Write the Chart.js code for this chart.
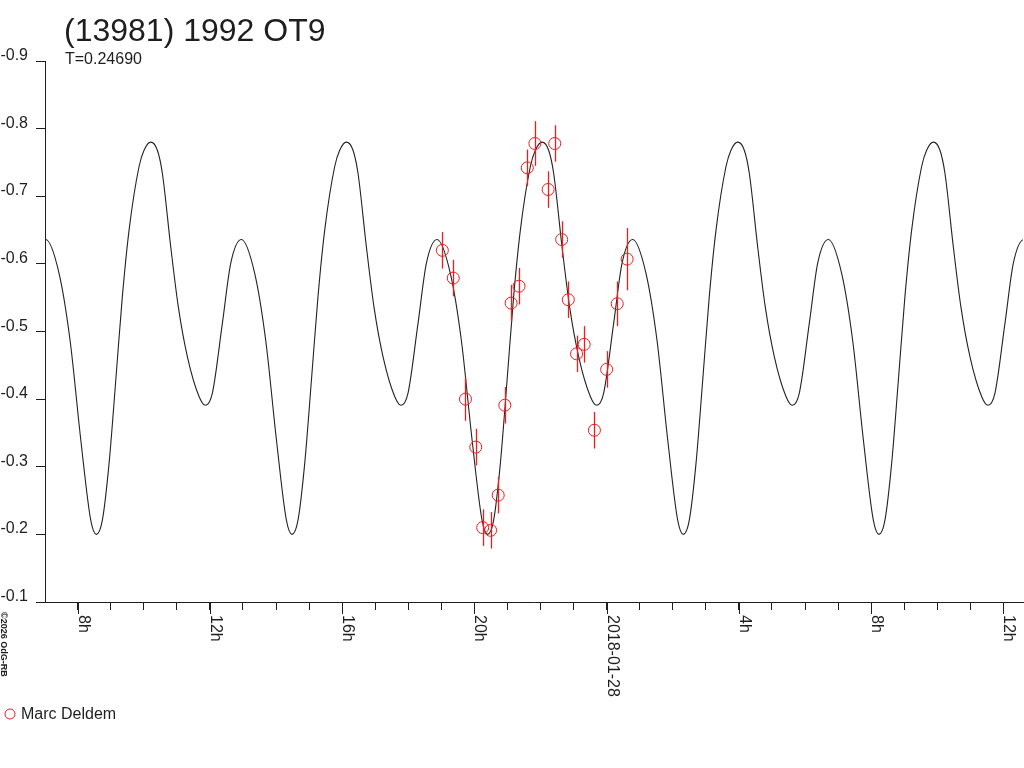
<!DOCTYPE html>
<html><head><meta charset="utf-8">
<script src="https://cdn.jsdelivr.net/npm/chart.js@4.4.1/dist/chart.umd.min.js"></script>
<style>html,body{margin:0;padding:0;background:#fff;overflow:hidden}canvas{display:block}</style>
</head><body>
<canvas id="c" width="1024" height="768"></canvas>
<script>
// ---- texts ----
const titleText = '(13981) 1992 OT9';
const subtitleText = 'T=0.24690';
const observerName = 'Marc Deldem';
const copyrightText = '\u00A92026 OdG-RB';

// ---- axes (hours counted from 2018-01-27 00h) ----
const xMin = 7.011, xMax = 36.594;
const tickHours = [8,9,10,11,12,13,14,15,16,17,18,19,20,21,22,23,24,25,26,27,28,29,30,31,32,33,34,35,36];
const labelHours = [8, 12, 16, 20, 24, 28, 32, 36];
const labelTexts = ['8h', '12h', '16h', '20h', '2018-01-28', '4h', '8h', '12h'];
const yTickValues = [-0.9, -0.8, -0.7, -0.6, -0.5, -0.4, -0.3, -0.2, -0.1];

// ---- observations (Marc Deldem) ----
const obsHours = [19.03, 19.36, 19.73, 20.04, 20.25, 20.49, 20.72, 20.92, 21.11, 21.35, 21.60, 21.83, 22.23, 22.43, 22.64, 22.84, 23.09, 23.32, 23.63, 24.00, 24.32, 24.62];
const obsMag   = [-0.620, -0.579, -0.400, -0.329, -0.210, -0.206, -0.258, -0.391, -0.542, -0.567, -0.742, -0.778, -0.710, -0.778, -0.636, -0.547, -0.467, -0.481, -0.354, -0.444, -0.541, -0.607];
const obsErr   = [0.027, 0.027, 0.032, 0.027, 0.027, 0.027, 0.027, 0.027, 0.027, 0.027, 0.027, 0.033, 0.027, 0.027, 0.027, 0.027, 0.027, 0.027, 0.027, 0.027, 0.033, 0.046];

// ---- fitted lightcurve ----
const curveHours = [
  6.712, 7.032, 7.436, 7.769, 8.093, 8.395, 8.565, 8.746, 8.949, 9.152, 9.351, 9.554, 9.856, 10.007,
  10.21, 10.41, 10.561, 10.815, 11.045, 11.317, 11.671, 11.862, 12.074, 12.376, 12.63, 12.95, 13.354, 13.687, 14.011, 14.313, 14.483, 14.664, 14.867, 15.07, 15.269, 15.472, 15.774, 15.925,
  16.128, 16.328, 16.479, 16.733, 16.963, 17.235, 17.589, 17.78, 17.992, 18.294, 18.548, 18.868, 19.272, 19.605, 19.929, 20.231, 20.401, 20.582, 20.785, 20.988, 21.187, 21.39, 21.692, 21.843,
  22.046, 22.246, 22.397, 22.651, 22.881, 23.153, 23.507, 23.698, 23.91, 24.212, 24.466, 24.786, 25.19, 25.523, 25.847, 26.149, 26.319, 26.5, 26.703, 26.906, 27.105, 27.308, 27.61, 27.761,
  27.964, 28.164, 28.315, 28.569, 28.799, 29.071, 29.425, 29.616, 29.828, 30.13, 30.384, 30.704, 31.108, 31.441, 31.765, 32.067, 32.237, 32.418, 32.621, 32.824, 33.023, 33.226, 33.528, 33.679,
  33.882, 34.082, 34.233, 34.487, 34.717, 34.989, 35.343, 35.534, 35.746, 36.048, 36.302, 36.622, 37.026
];
const curveMag = [
  -0.601, -0.636, -0.586, -0.487, -0.340, -0.221, -0.200, -0.221, -0.305, -0.428, -0.552, -0.650, -0.744, -0.768,
  -0.780, -0.768, -0.734, -0.625, -0.536, -0.463, -0.404, -0.391, -0.409, -0.512, -0.601, -0.636, -0.586, -0.487, -0.340, -0.221, -0.200, -0.221, -0.305, -0.428, -0.552, -0.650, -0.744, -0.768,
  -0.780, -0.768, -0.734, -0.625, -0.536, -0.463, -0.404, -0.391, -0.409, -0.512, -0.601, -0.636, -0.586, -0.487, -0.340, -0.221, -0.200, -0.221, -0.305, -0.428, -0.552, -0.650, -0.744, -0.768,
  -0.780, -0.768, -0.734, -0.625, -0.536, -0.463, -0.404, -0.391, -0.409, -0.512, -0.601, -0.636, -0.586, -0.487, -0.340, -0.221, -0.200, -0.221, -0.305, -0.428, -0.552, -0.650, -0.744, -0.768,
  -0.780, -0.768, -0.734, -0.625, -0.536, -0.463, -0.404, -0.391, -0.409, -0.512, -0.601, -0.636, -0.586, -0.487, -0.340, -0.221, -0.200, -0.221, -0.305, -0.428, -0.552, -0.650, -0.744, -0.768,
  -0.780, -0.768, -0.734, -0.625, -0.536, -0.463, -0.404, -0.391, -0.409, -0.512, -0.601, -0.636, -0.586
];

const FONT = '"Liberation Sans", Arial, sans-serif';
const INK = '#1e1e1e';
const RED = '#ee1c1c';

const obsData = obsHours.map((h, i) => ({ x: h, y: obsMag[i] }));
const curveData = curveHours.map((h, i) => ({ x: h, y: curveMag[i] }));

const errorBars = {
  id: 'errorBars',
  afterDatasetsDraw(chart) {
    const ctx = chart.ctx, xs = chart.scales.x, ys = chart.scales.y;
    ctx.save();
    ctx.strokeStyle = RED;
    ctx.lineWidth = 1.3;
    obsHours.forEach((h, i) => {
      const px = Math.round(xs.getPixelForValue(h)) + 0.5;
      ctx.beginPath();
      ctx.moveTo(px, ys.getPixelForValue(obsMag[i] - obsErr[i]));
      ctx.lineTo(px, ys.getPixelForValue(obsMag[i] + obsErr[i]));
      ctx.stroke();
    });
    ctx.restore();
  }
};

const decor = {
  id: 'decor',
  afterDraw(chart) {
    const ctx = chart.ctx, xs = chart.scales.x, ys = chart.scales.y;
    ctx.save();
    ctx.fillStyle = INK;
    ctx.textBaseline = 'alphabetic';
    ctx.textAlign = 'left';
    ctx.font = '32px ' + FONT;
    ctx.fillText(titleText, 64, 41);
    ctx.font = '16px ' + FONT;
    ctx.fillText(subtitleText, 65, 64);

    // y tick labels
    ctx.textAlign = 'right';
    yTickValues.forEach(v => {
      ctx.fillText(v.toFixed(1), 28, Math.round(ys.getPixelForValue(v)) - 1);
    });

    // longer marks + rotated labels on the x axis
    ctx.strokeStyle = INK;
    ctx.lineWidth = 1;
    const base = chart.chartArea.bottom;
    labelHours.forEach((h, i) => {
      const px = Math.round(xs.getPixelForValue(h)) + 0.5;
      ctx.beginPath();
      ctx.moveTo(px, base);
      ctx.lineTo(px, base + 12);
      ctx.stroke();
      ctx.save();
      ctx.translate(px + 0.5, base + 13);
      ctx.rotate(Math.PI / 2);
      ctx.textAlign = 'left';
      ctx.fillText(labelTexts[i], 0, 0);
      ctx.restore();
    });

    // copyright, rotated
    ctx.save();
    ctx.translate(0.5, 612);
    ctx.rotate(Math.PI / 2);
    ctx.textAlign = 'left';
    ctx.font = 'bold 9px ' + FONT;
    ctx.fillText(copyrightText, 0, 0);
    ctx.restore();

    // legend
    ctx.strokeStyle = RED;
    ctx.lineWidth = 1;
    ctx.beginPath();
    ctx.arc(10, 714, 5, 0, Math.PI * 2);
    ctx.stroke();
    ctx.fillStyle = INK;
    ctx.textAlign = 'left';
    ctx.font = '16px ' + FONT;
    ctx.fillText(observerName, 21, 719);
    ctx.restore();
  }
};

new Chart(document.getElementById('c'), {
  type: 'scatter',
  data: {
    datasets: [
      {
        label: observerName,
        data: obsData,
        pointStyle: 'circle',
        pointRadius: 6,
        pointBorderWidth: 1,
        pointBorderColor: RED,
        pointBackgroundColor: 'rgba(0,0,0,0)',
        showLine: false
      },
      {
        label: 'fit',
        data: curveData,
        showLine: true,
        pointRadius: 0,
        borderColor: '#222',
        borderWidth: 1.1,
        cubicInterpolationMode: 'monotone',
        clip: 0
      }
    ]
  },
  options: {
    responsive: false,
    animation: false,
    devicePixelRatio: 1,
    events: [],
    layout: { autoPadding: false, padding: { left: 0, right: 1, top: 61, bottom: 0 } },
    plugins: { legend: { display: false }, tooltip: { enabled: false }, title: { display: false } },
    scales: {
      x: {
        type: 'linear',
        min: xMin,
        max: xMax,
        offset: false,
        afterBuildTicks: s => { s.ticks = tickHours.map(v => ({ value: v })); },
        afterFit: s => { s.height = 166; s.paddingLeft = 0; s.paddingRight = 0; },
        ticks: { display: false },
        grid: { display: true, drawOnChartArea: false, drawTicks: true, tickLength: 8, color: INK, lineWidth: 1 },
        border: { display: true, color: INK, width: 1 }
      },
      y: {
        type: 'linear',
        min: -0.9,
        max: -0.1,
        reverse: true,
        afterBuildTicks: s => { s.ticks = yTickValues.map(v => ({ value: v })); },
        afterFit: s => { s.width = 45; s.paddingTop = 0; s.paddingBottom = 0; },
        ticks: { display: false },
        grid: { display: true, drawOnChartArea: false, drawTicks: true, tickLength: 9, color: INK, lineWidth: 1 },
        border: { display: true, color: INK, width: 1 }
      }
    }
  },
  plugins: [errorBars, decor]
});
</script>
</body></html>
